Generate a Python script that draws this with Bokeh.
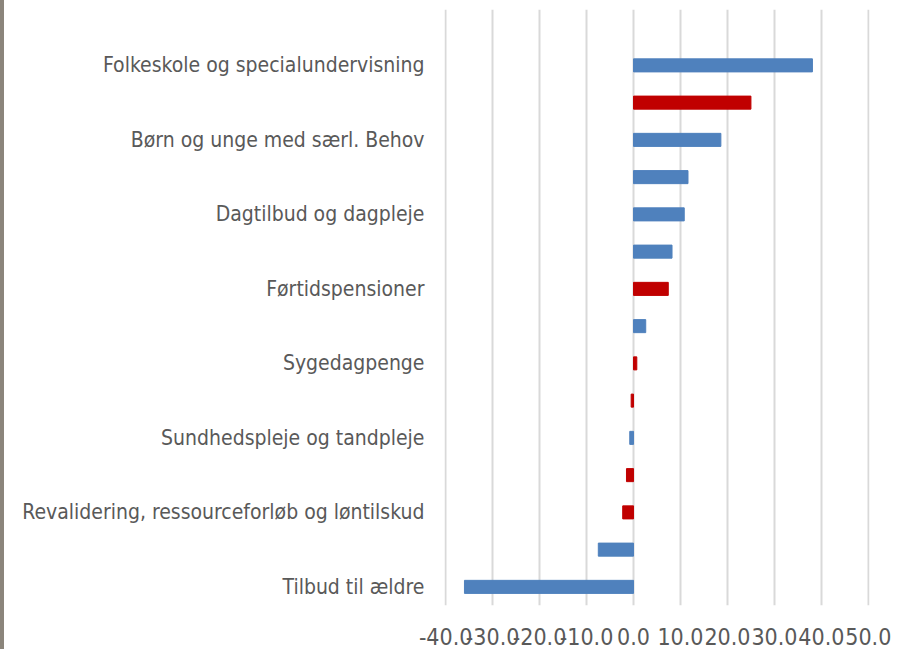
from bokeh.plotting import figure
from bokeh.models import FixedTicker, NumeralTickFormatter, Range1d, ColumnDataSource
from bokeh.embed import file_html
from bokeh.resources import INLINE

# Rows from top to bottom (first row of the plot is empty)
labels = ["", "Folkeskole og specialundervisning", "", "Børn og unge med særl. Behov", "",
          "Dagtilbud og dagpleje", "", "Førtidspensioner", "", "Sygedagpenge", "",
          "Sundhedspleje og tandpleje", "", "Revalidering, ressourceforløb og løntilskud", "",
          "Tilbud til ældre"]
values = [None, 38.1, 25.0, 18.6, 11.6, 10.8, 8.2, 7.4, 2.6, 0.7, -0.5, -0.8, -1.5, -2.3, -7.5, -36.0]
series = [None, "blue", "red", "blue", "blue", "blue", "blue", "red", "blue", "red", "red",
          "blue", "red", "red", "blue", "blue"]
x_ticks = [-40, -30, -20, -10, 0, 10, 20, 30, 40, 50]

colors = {"blue": "#4F81BD", "red": "#C00000"}
n = len(labels)
ys, xs, cs = [], [], []
for i, (v, s) in enumerate(zip(values, series)):
    if v is None:
        continue
    ys.append(n - i)
    xs.append(v)
    cs.append(colors[s])
src = ColumnDataSource(dict(y=ys, right=xs, color=cs))

p = figure(width=900, height=649, output_backend="svg", toolbar_location=None,
           x_range=Range1d(-40.25, 50.25), y_range=Range1d(0.5, n + 0.5),
           min_border_left=440, min_border_right=35, min_border_top=9, min_border_bottom=44)
p.styles = {"border-left": "4px solid #8B857B"}
p.outline_line_color = None
p.background_fill_color = "white"
p.border_fill_color = "white"

p.hbar(y="y", left=0, right="right", height=0.35, color="color", source=src)

p.xaxis.ticker = FixedTicker(ticks=x_ticks)
p.xaxis.formatter = NumeralTickFormatter(format="0.0")
p.xaxis.axis_line_color = None
p.xaxis.major_tick_line_color = None
p.xaxis.minor_tick_line_color = None
p.xaxis.major_label_text_font = "DejaVu Sans Condensed"
p.xaxis.major_label_text_font_size = "23px"
p.xaxis.major_label_text_color = "#595959"
p.xaxis.major_label_standoff = 16

tick_pos = [n - i for i, l in enumerate(labels) if l]
p.yaxis.ticker = FixedTicker(ticks=tick_pos)
p.yaxis.major_label_overrides = {n - i: l for i, l in enumerate(labels) if l}
p.yaxis.axis_line_color = None
p.yaxis.major_tick_line_color = None
p.yaxis.minor_tick_line_color = None
p.yaxis.major_label_text_font = "DejaVu Sans Condensed"
p.yaxis.major_label_text_font_size = "21px"
p.yaxis.major_label_text_color = "#595959"
p.yaxis.major_label_standoff = 14

p.xgrid.ticker = FixedTicker(ticks=x_ticks)
p.xgrid.grid_line_color = "#D9D9D9"
p.xgrid.grid_line_width = 2
p.ygrid.grid_line_color = None

open("out.html", "w").write(file_html(p, INLINE))
